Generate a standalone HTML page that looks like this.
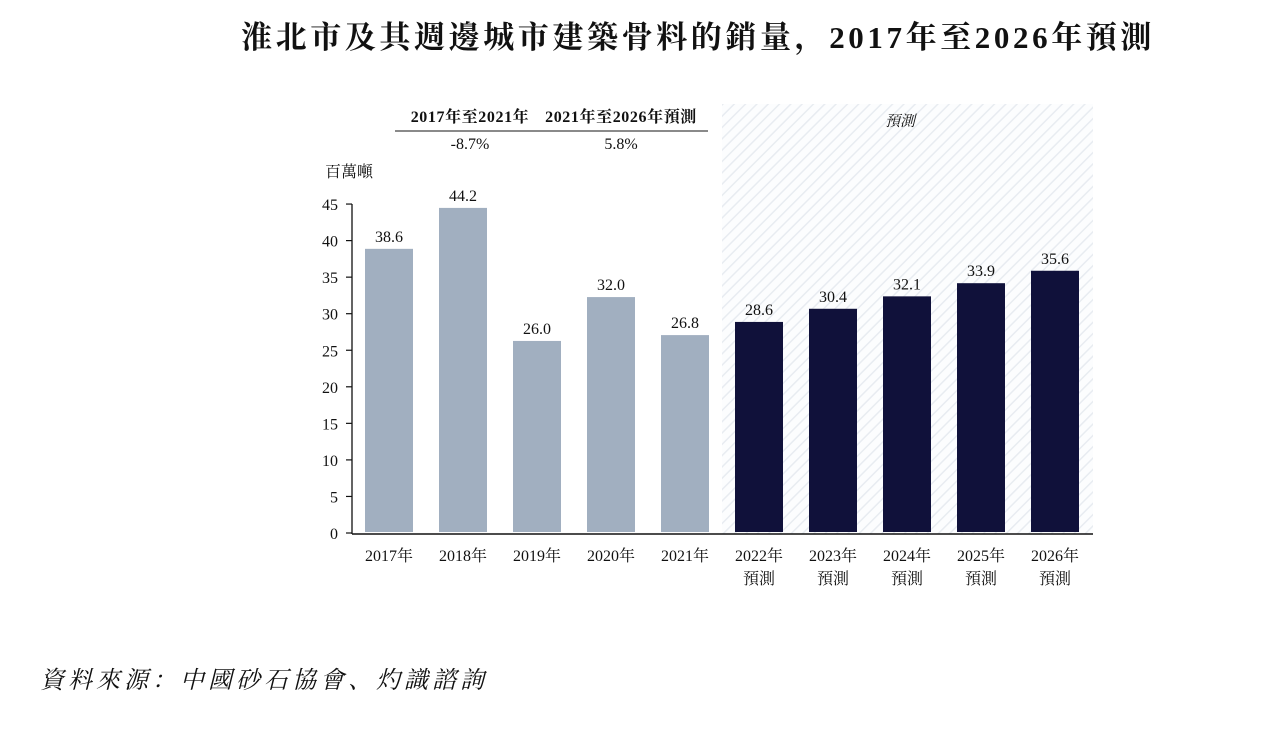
<!DOCTYPE html>
<html><head><meta charset="utf-8">
<style>
body{margin:0;background:#fff;}
svg text{font-family:"Liberation Serif","Noto Serif CJK SC",serif;fill:#111;}
</style></head>
<body>
<svg width="1266" height="728" viewBox="0 0 1266 728" xmlns="http://www.w3.org/2000/svg">
<defs>
<pattern id="hatch" width="8" height="8" patternUnits="userSpaceOnUse" patternTransform="rotate(45)">
<rect width="8" height="8" fill="#fcfdfe"/>
<line x1="0" y1="0" x2="0" y2="8" stroke="#e8ecf1" stroke-width="3"/>
</pattern>
</defs>
<text x="698" y="48" text-anchor="middle" font-size="31" font-weight="bold" letter-spacing="3.6" style="font-family:'Liberation Serif','Noto Serif CJK SC',serif">淮北市及其週邊城市建築骨料的銷量，2017年至2026年預測</text>
<rect x="722" y="104" width="371" height="430" fill="url(#hatch)"/>
<text x="900" y="126" text-anchor="middle" font-size="15" font-style="italic">預測</text>
<text x="470" y="122" text-anchor="middle" font-size="16" font-weight="bold" letter-spacing="0.6">2017年至2021年</text>
<text x="621" y="122" text-anchor="middle" font-size="16" font-weight="bold" letter-spacing="0.6">2021年至2026年預測</text>
<line x1="395" y1="131" x2="708" y2="131" stroke="#444" stroke-width="1.3"/>
<text x="470" y="149" text-anchor="middle" font-size="16">-8.7%</text>
<text x="621" y="149" text-anchor="middle" font-size="16">5.8%</text>
<text x="325" y="177" font-size="16">百萬噸</text>
<g id="axes"></g>
<g id="bars"></g>
<text x="40" y="688" font-size="24" font-style="italic" letter-spacing="4">資料來源：中國砂石協會、灼識諮詢</text>
</svg>
<script>
const categories=["2017年","2018年","2019年","2020年","2021年","2022年","2023年","2024年","2025年","2026年"];
const forecastFlags=[false,false,false,false,false,true,true,true,true,true];
const values=[38.6,44.2,26.0,32.0,26.8,28.6,30.4,32.1,33.9,35.6];
const valueLabels=["38.6","44.2","26.0","32.0","26.8","28.6","30.4","32.1","33.9","35.6"];
const yTicks=[0,5,10,15,20,25,30,35,40,45];
const NS="http://www.w3.org/2000/svg";
const y0=533,k=7.31;
function yScale(v){return y0-v*k;}
function xScale(i){return 389+i*74;}
function mk(t,a,p){const e=document.createElementNS(NS,t);for(const n in a)e.setAttribute(n,a[n]);p.appendChild(e);return e;}
const ax=document.getElementById('axes'),bg=document.getElementById('bars');
yTicks.forEach(t=>{
  const y=yScale(t);
  const l=mk('line',{x1:346,x2:352,y1:y,y2:y,stroke:'#111','stroke-width':1.2},ax);
  
  
  const tx=mk('text',{x:338,y:y+6,'text-anchor':'end','font-size':16},ax);
  tx.textContent=t;
  
  
});
values.forEach((v,i)=>{
  const cx=xScale(i),top=yScale(v)-2;
  const r=mk('rect',{x:cx-24,y:top,width:48,height:y0-1-top,fill:forecastFlags[i]?'#10113a':'#a1afc0'},bg);
  
  
  const t=mk('text',{x:cx,y:top-7,'text-anchor':'middle','font-size':16},bg);
  t.textContent=valueLabels[i];
  
  
  const c=mk('text',{x:cx,y:561,'text-anchor':'middle','font-size':16},bg);
  c.textContent=categories[i];
  
  
  if(forecastFlags[i]){
    const f=mk('text',{x:cx,y:584,'text-anchor':'middle','font-size':16},bg);
    f.textContent='預測';
    
    
  }
});
const yl=mk('line',{x1:352,x2:352,y1:yScale(45),y2:534,stroke:'#111','stroke-width':1.3},ax);


const xl=mk('line',{x1:352,x2:1093,y1:534,y2:534,stroke:'#111','stroke-width':1.5},ax);


</script>
</body></html>
